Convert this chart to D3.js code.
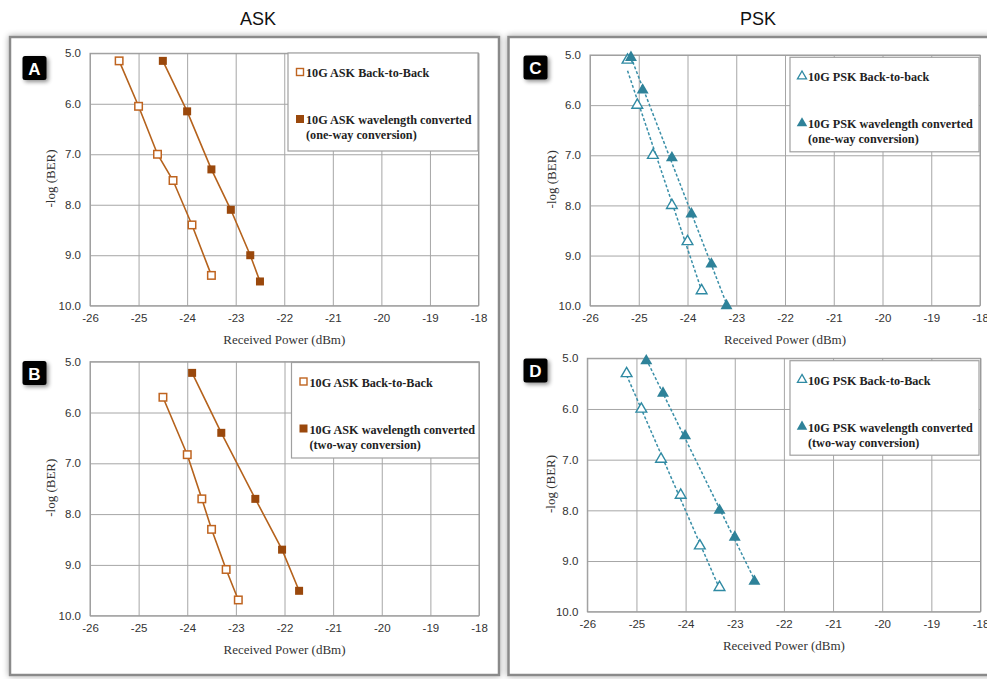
<!DOCTYPE html>
<html>
<head>
<meta charset="utf-8">
<script src="https://cdn.jsdelivr.net/npm/d3@7"></script>
<style>
  html, body { margin: 0; padding: 0; background: #ffffff; }
  svg { display: block; }
</style>
</head>
<body>
<svg id="chart" width="987" height="679"></svg>
<script>
// ---------- DATA ----------
const groupTitles = ["ASK", "PSK"];
const panelLetters = ["A", "B", "C", "D"];
const xTicks = [-26, -25, -24, -23, -22, -21, -20, -19, -18];
const yTicks = [5, 6, 7, 8, 9, 10];
const xTitle = "Received Power (dBm)";
const yTitle = "-log (BER)";

// Panel A – ASK one-way
const aB2bX = [-25.40, -25.00, -24.61, -24.29, -23.90, -23.50];
const aB2bY = [5.15, 6.05, 7.00, 7.52, 8.40, 9.40];
const aConvX = [-24.50, -24.00, -23.50, -23.10, -22.70, -22.50];
const aConvY = [5.15, 6.15, 7.30, 8.10, 9.00, 9.52];
const aLegend = ["10G ASK Back-to-Back", "10G ASK wavelength converted", "(one-way conversion)"];

// Panel B – ASK two-way
const bB2bX = [-24.50, -24.00, -23.70, -23.50, -23.20, -22.95];
const bB2bY = [5.70, 6.83, 7.70, 8.30, 9.09, 9.69];
const bConvX = [-23.90, -23.30, -22.60, -22.05, -21.70];
const bConvY = [5.22, 6.40, 7.70, 8.70, 9.51];
const bLegend = ["10G ASK Back-to-Back", "10G ASK wavelength converted", "(two-way conversion)"];

// Panel C – PSK one-way
const cB2bX = [-25.23, -25.03, -24.71, -24.32, -24.00, -23.71];
const cB2bY = [5.10, 6.00, 7.00, 8.00, 8.72, 9.70];
const cConvX = [-25.16, -24.92, -24.32, -23.92, -23.51, -23.20];
const cConvY = [5.05, 5.70, 7.05, 8.17, 9.17, 10.00];
const cLegend = ["10G PSK Back-to-back", "10G PSK wavelength converted", "(one-way conversion)"];

// Panel D – PSK two-way
const dB2bX = [-25.20, -24.90, -24.50, -24.10, -23.71, -23.31];
const dB2bY = [5.30, 6.00, 6.99, 7.70, 8.70, 9.52];
const dConvX = [-24.80, -24.46, -24.01, -23.31, -23.00, -22.60];
const dConvY = [5.05, 5.69, 6.53, 8.00, 8.53, 9.40];
const dLegend = ["10G PSK Back-to-Back", "10G PSK wavelength converted", "(two-way conversion)"];

// ---------- STYLE / LAYOUT ----------
const ASK_LINE = "#b5621c", ASK_OPEN = "#bf6420", ASK_FILL = "#9a480c";
const PSK_LINE = "#3a8fa8", PSK_OPEN = "#2f8aa3", PSK_FILL = "#2e8299";

const panels = [
  { letter: "A", kind: "ask", b2b: [aB2bX, aB2bY], conv: [aConvX, aConvY], legend: aLegend,
    plot: { x0: 90, x1: 478.5, y0: 53.3, y1: 305.7 }, badge: [22.5, 56],
    leg: { x: 288, y: 53, w: 190, h: 98 }, ylab: 52 },
  { letter: "B", kind: "ask", b2b: [bB2bX, bB2bY], conv: [bConvX, bConvY], legend: bLegend,
    plot: { x0: 90, x1: 479, y0: 361.7, y1: 615.7 }, badge: [22.5, 361],
    leg: { x: 291.5, y: 362.5, w: 187.5, h: 95.5 }, ylab: 52 },
  { letter: "C", kind: "psk", b2b: [cB2bX, cB2bY], conv: [cConvX, cConvY], legend: cLegend,
    plot: { x0: 590, x1: 980, y0: 55, y1: 305.7 }, badge: [523.5, 55.5],
    leg: { x: 790, y: 57.3, w: 189, h: 94.5 }, ylab: 553 },
  { letter: "D", kind: "psk", b2b: [dB2bX, dB2bY], conv: [dConvX, dConvY], legend: dLegend,
    plot: { x0: 587.3, x1: 980.5, y0: 358.3, y1: 611.7 }, badge: [523.5, 358.5],
    leg: { x: 790, y: 360.7, w: 189, h: 94.5 }, ylab: 552 }
];

const svg = d3.select("#chart");
const defs = svg.append("defs");

// soft shadow filter
const f = defs.append("filter").attr("id", "shadow").attr("x", "-20%").attr("y", "-20%").attr("width", "150%").attr("height", "150%");
f.append("feGaussianBlur").attr("in", "SourceAlpha").attr("stdDeviation", 2);
f.append("feOffset").attr("dx", 2).attr("dy", 2).attr("result", "ob");
f.append("feComponentTransfer").append("feFuncA").attr("type", "linear").attr("slope", 0.45);
const fm = f.append("feMerge");
fm.append("feMergeNode");
fm.append("feMergeNode").attr("in", "SourceGraphic");

const f2 = defs.append("filter").attr("id", "frameShadow").attr("x", "-5%").attr("y", "-5%").attr("width", "110%").attr("height", "110%");
f2.append("feGaussianBlur").attr("in", "SourceAlpha").attr("stdDeviation", 3);
f2.append("feComponentTransfer").append("feFuncA").attr("type", "linear").attr("slope", 0.35);
const fm2 = f2.append("feMerge");
fm2.append("feMergeNode");
fm2.append("feMergeNode").attr("in", "SourceGraphic");

// group titles
svg.append("text").attr("x", 258).attr("y", 25).attr("text-anchor", "middle")
  .attr("font-family", "Arial, 'Liberation Sans', sans-serif").attr("font-size", 18)
  .attr("fill", "#111").text(groupTitles[0]);
svg.append("text").attr("x", 758).attr("y", 25).attr("text-anchor", "middle")
  .attr("font-family", "Arial, 'Liberation Sans', sans-serif").attr("font-size", 18)
  .attr("fill", "#111").text(groupTitles[1]);

// frames
[[10, 37, 489, 638], [508.5, 37, 500, 638]].forEach(r => {
  svg.append("rect").attr("x", r[0]).attr("y", r[1]).attr("width", r[2]).attr("height", r[3])
    .attr("fill", "#fff").attr("stroke", "#8a8a8a").attr("stroke-width", 2.5)
    .attr("filter", "url(#frameShadow)");
});

panels.forEach(p => {
  const g = svg.append("g");
  const x = d3.scaleLinear().domain([xTicks[0], xTicks[xTicks.length - 1]]).range([p.plot.x0, p.plot.x1]);
  const y = d3.scaleLinear().domain([yTicks[0], yTicks[yTicks.length - 1]]).range([p.plot.y0, p.plot.y1]);
  const W = p.plot.x1 - p.plot.x0, H = p.plot.y1 - p.plot.y0;

  // grid
  const gx = g.append("g").attr("transform", `translate(0,${p.plot.y1})`)
    .call(d3.axisBottom(x).tickValues(xTicks).tickSize(-H).tickPadding(8));
  const gy = g.append("g").attr("transform", `translate(${p.plot.x0},0)`)
    .call(d3.axisLeft(y).tickValues(yTicks).tickSize(-W).tickFormat(d3.format(".1f")).tickPadding(9));
  [gx, gy].forEach(a => {
    a.select(".domain").remove();
    a.selectAll(".tick line").attr("stroke", "#a6a6a6").attr("stroke-width", 1);
    a.selectAll(".tick text").attr("font-family", "Arial, 'Liberation Sans', sans-serif")
      .attr("font-size", 11.5).attr("fill", "#333");
  });
  gx.selectAll(".tick text").text(d => String(d));
  // plot border
  g.append("rect").attr("x", p.plot.x0).attr("y", p.plot.y0).attr("width", W).attr("height", H)
    .attr("fill", "none").attr("stroke", "#9a9a9a").attr("stroke-width", 1);

  // axis titles
  g.append("text").attr("x", (p.plot.x0 + p.plot.x1) / 2).attr("y", p.plot.y1 + 38)
    .attr("text-anchor", "middle").attr("font-family", "'Liberation Serif', 'Times New Roman', serif")
    .attr("font-size", 13).attr("fill", "#333").text(xTitle);
  g.append("text").attr("transform", `translate(${p.ylab},${(p.plot.y0 + p.plot.y1) / 2 - 1}) rotate(-90)`)
    .attr("text-anchor", "middle").attr("dominant-baseline", "middle")
    .attr("font-family", "'Liberation Serif', 'Times New Roman', serif")
    .attr("font-size", 13).attr("fill", "#333").text(yTitle);

  const pts = arr => arr[0].map((v, i) => [v, arr[1][i]]);
  const b2b = pts(p.b2b), conv = pts(p.conv);

  if (p.kind === "ask") {
    const line = d3.line().x(d => x(d[0])).y(d => y(d[1]));
    [b2b, conv].forEach(s => g.append("path").attr("d", line(s)).attr("fill", "none")
      .attr("stroke", ASK_LINE).attr("stroke-width", 1.6));
    g.selectAll(null).data(b2b).enter().append("rect")
      .attr("x", d => x(d[0]) - 3.75).attr("y", d => y(d[1]) - 3.75).attr("width", 7.5).attr("height", 7.5)
      .attr("fill", "#fff").attr("stroke", ASK_OPEN).attr("stroke-width", 1.5);
    g.selectAll(null).data(conv).enter().append("rect")
      .attr("x", d => x(d[0]) - 4).attr("y", d => y(d[1]) - 4).attr("width", 8).attr("height", 8)
      .attr("fill", ASK_FILL);
  } else {
    // linear trendlines (least squares) drawn dashed across each series' x-range
    [b2b, conv].forEach(s => {
      const mx = d3.mean(s, d => d[0]), my = d3.mean(s, d => d[1]);
      const sxy = d3.sum(s, d => (d[0] - mx) * (d[1] - my));
      const sxx = d3.sum(s, d => (d[0] - mx) ** 2);
      const k = sxy / sxx, b = my - k * mx;
      const xs = d3.extent(s, d => d[0]);
      g.append("line").attr("x1", x(xs[0])).attr("y1", y(k * xs[0] + b))
        .attr("x2", x(xs[1])).attr("y2", y(k * xs[1] + b))
        .attr("stroke", PSK_LINE).attr("stroke-width", 1.5).attr("stroke-dasharray", "3,2");
    });
    const tri = d3.symbol().type(d3.symbolTriangle).size(50);
    g.selectAll(null).data(b2b).enter().append("path").attr("d", tri)
      .attr("transform", d => `translate(${x(d[0])},${y(d[1])})`)
      .attr("fill", "#fff").attr("stroke", PSK_OPEN).attr("stroke-width", 1.4);
    g.selectAll(null).data(conv).enter().append("path").attr("d", d3.symbol().type(d3.symbolTriangle).size(62))
      .attr("transform", d => `translate(${x(d[0])},${y(d[1])})`)
      .attr("fill", PSK_FILL);
  }

  // legend
  const L = p.leg;
  g.append("rect").attr("x", L.x).attr("y", L.y).attr("width", L.w).attr("height", L.h)
    .attr("fill", "#fff").attr("stroke", "#a0a0a0").attr("stroke-width", 1.2);
  const lf = "'Liberation Serif', 'Times New Roman', serif";
  const ty1 = L.y + 24, ty2 = L.y + 71, ty3 = L.y + 86;
  const mx0 = L.x + 12;
  if (p.kind === "ask") {
    g.append("rect").attr("x", mx0 - 3.5).attr("y", ty1 - 8.5).attr("width", 7).attr("height", 7)
      .attr("fill", "#fff").attr("stroke", ASK_OPEN).attr("stroke-width", 1.4);
    g.append("rect").attr("x", mx0 - 4).attr("y", ty2 - 9).attr("width", 8).attr("height", 8)
      .attr("fill", ASK_FILL);
  } else {
    g.append("path").attr("d", d3.symbol().type(d3.symbolTriangle).size(36))
      .attr("transform", `translate(${mx0},${ty1 - 5})`).attr("fill", "#fff")
      .attr("stroke", PSK_OPEN).attr("stroke-width", 1.3);
    g.append("path").attr("d", d3.symbol().type(d3.symbolTriangle).size(48))
      .attr("transform", `translate(${mx0},${ty2 - 5})`).attr("fill", PSK_FILL);
  }
  [[p.legend[0], ty1], [p.legend[1], ty2], [p.legend[2], ty3]].forEach(t => {
    g.append("text").attr("x", L.x + 18).attr("y", t[1]).attr("font-family", lf)
      .attr("font-weight", "bold").attr("font-size", 12.2).attr("fill", "#222").text(t[0]);
  });

  // panel badge
  const bg = svg.append("g").attr("transform", `translate(${p.badge[0]},${p.badge[1]})`);
  bg.append("rect").attr("width", 24).attr("height", 24).attr("rx", 2.5)
    .attr("fill", "#000").attr("filter", "url(#shadow)");
  bg.append("text").attr("x", 12).attr("y", 18.5).attr("text-anchor", "middle")
    .attr("font-family", "Arial, 'Liberation Sans', sans-serif").attr("font-weight", "bold")
    .attr("font-size", 17).attr("fill", "#fff").text(p.letter);
});
</script>
</body>
</html>
